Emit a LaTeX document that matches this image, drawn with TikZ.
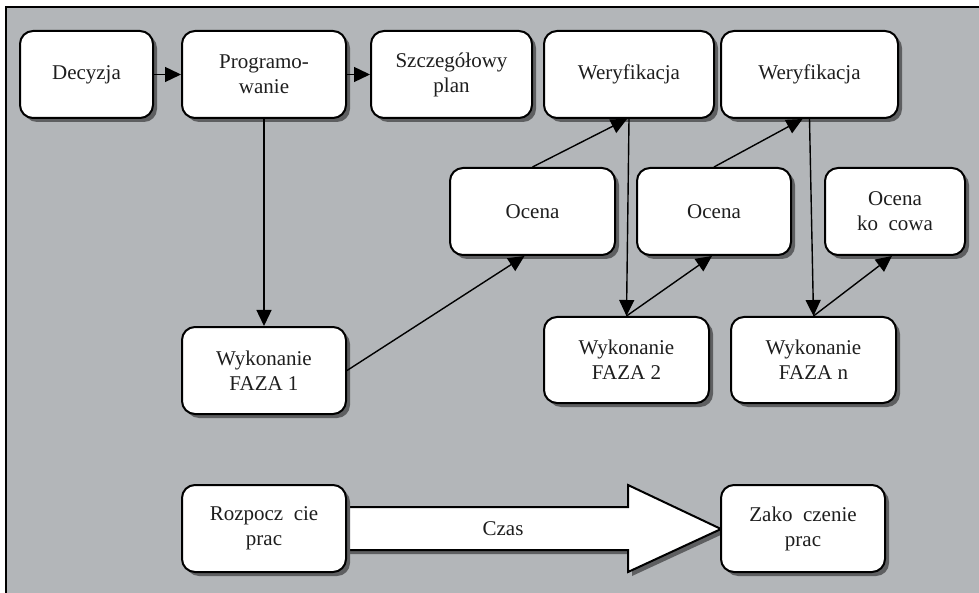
\documentclass[tikz,border=0pt]{standalone}
\usepackage{fontspec}
\setmainfont{Liberation Serif}
\usetikzlibrary{shadows,arrows.meta,calc}
\definecolor{bg}{HTML}{B3B6B9}
\definecolor{shd}{HTML}{5E5F61}
\definecolor{ink}{HTML}{1E1E1E}
\begin{document}
\begin{tikzpicture}[x=1pt,y=-1pt, font=\fontsize{21}{25}\selectfont, text=ink,
 box/.style={draw=black, line width=2pt, fill=white, rounded corners=13pt, align=center, inner sep=0pt, minimum height=87pt,
   drop shadow={shadow xshift=4pt, shadow yshift=-4pt, opacity=1, fill=shd}},
 conn/.style={line width=1.4pt, -{Triangle[length=16pt,width=15pt]}}]
\useasboundingbox (0,0) rectangle (979,593);
\fill[bg] (6,7) rectangle (979,593);
\draw[line width=1.8pt] (6,593) -- (6,7) -- (979,7);
% big time arrow
\path[fill=white, draw=black, line width=2pt, line join=miter,
   drop shadow={shadow xshift=4pt, shadow yshift=-4pt, opacity=1, fill=shd}]
  (346,507) -- (628,507) -- (628,485) -- (721,529) -- (628,572) -- (628,550) -- (346,550) -- cycle;
\node (czas) at (503,529) {Czas};
% boxes
\node[box, minimum width=133pt] (dec) at (86.5,74.5) {Decyzja};
\node[box, minimum width=164pt] (prog) at (264,74.5) {Programo-\\wanie};
\node[box, minimum width=161pt] (szcz) at (451.5,74.5) {Szczegółowy\\plan};
\node[box, minimum width=170pt] (wer1) at (629,74.5) {Weryfikacja};
\node[box, minimum width=177pt] (wer2) at (809.5,74.5) {Weryfikacja};
\node[box, minimum width=165pt] (oc1) at (532.5,211.5) {Ocena};
\node[box, minimum width=154pt] (oc2) at (714,211.5) {Ocena};
\node[box, minimum width=140pt] (ock) at (895,211.5) {Ocena\\ko\ \ cowa};
\node[box, minimum width=164pt] (wyk1) at (264,370.5) {Wykonanie\\FAZA 1};
\node[box, minimum width=165pt, minimum height=86pt] (wyk2) at (626.5,360) {Wykonanie\\FAZA 2};
\node[box, minimum width=165pt, minimum height=86pt] (wykn) at (813.5,360) {Wykonanie\\FAZA n};
\node[box, minimum width=164pt] (roz) at (264,528.5) {Rozpocz\ \ cie\\prac};
\node[box, minimum width=164pt] (zak) at (803,528.5) {Zako\ \ czenie\\prac};
% connectors
\draw[conn] (dec.east) -- (prog.west);
\draw[conn] (prog.east) -- (szcz.west);
\draw[conn] (prog.south) -- (wyk1.north);
\draw[conn] (wyk1.east) -- ($(oc1.south)+(-8,0)$);
\draw[conn] (oc1.north) -- ($(wer1.south)+(-2,0)$);
\draw[conn] (wer1.south) -- (wyk2.north);
\draw[conn] (wyk2.north) -- ($(oc2.south)+(-2,0)$);
\draw[conn] (oc2.north) -- ($(wer2.south)+(-7,0)$);
\draw[conn] (wer2.south) -- (wykn.north);
\draw[conn] (wykn.north) -- ($(ock.south)+(-3,0)$);
\end{tikzpicture}
\end{document}
